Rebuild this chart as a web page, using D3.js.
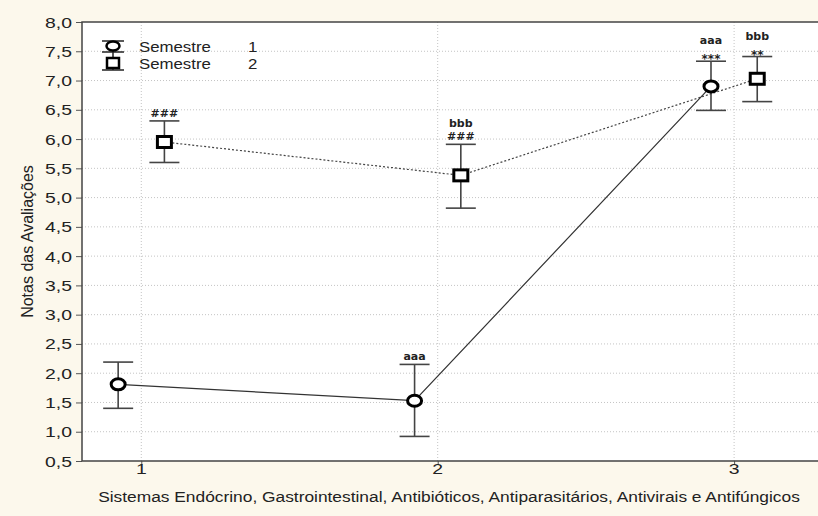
<!DOCTYPE html>
<html lang="pt">
<head>
<meta charset="UTF-8">
<title>Notas das Avaliações</title>
<script src="https://d3js.org/d3.v7.min.js"></script>
<style>
  body { margin: 0; background: #fcf8ec; font-family: "Liberation Sans", Arial, sans-serif; }
  svg { display: block; }
</style>
</head>
<body>
<script>
// data
var categories = [1, 2, 3];
var yTicks = [0.5, 1, 1.5, 2, 2.5, 3, 3.5, 4, 4.5, 5, 5.5, 6, 6.5, 7, 7.5, 8];
var sem1Mean = [1.81, 1.53, 6.90];
var sem1Low  = [1.40, 0.92, 6.49];
var sem1High = [2.19, 2.15, 7.33];
var sem2Mean = [5.95, 5.38, 7.03];
var sem2Low  = [5.60, 4.82, 6.64];
var sem2High = [6.31, 5.91, 7.41];
var sem1Marks = [[], ["aaa"], ["aaa", "***"]];
var sem2Marks = [["###"], ["bbb", "###"], ["bbb", "**"]];
var legendNames = ["Semestre", "Semestre"];
var legendNums = ["1", "2"];

var width = 818, height = 516;
var margin = { top: 22, right: 0, bottom: 55, left: 82 };
var sx = 1.2; // the reference picture is stretched horizontally

var svg = d3.select("body").append("svg")
    .attr("width", width).attr("height", height);

svg.append("rect").attr("width", width).attr("height", height).attr("fill", "#fcf8ec");

var x = d3.scaleLinear().domain([0.8, 3.283]).range([margin.left, width - margin.right]);
var y = d3.scaleLinear().domain([0.5, 8]).range([height - margin.bottom, margin.top]);
var off = 0.078; // horizontal dodge between the two series

// stretched text helper
function label(px, py, str, size, anchor, stretch) {
  return svg.append("text")
      .attr("transform", "translate(" + px + "," + py + ") scale(" + stretch + ",1)")
      .attr("text-anchor", anchor).attr("font-size", size).attr("fill", "#222")
      .text(str);
}

// plot area
svg.append("rect")
    .attr("x", x(0.8)).attr("y", y(8))
    .attr("width", x(3.283) - x(0.8)).attr("height", y(0.5) - y(8))
    .attr("fill", "#fff");

// grid
var grid = svg.append("g").attr("stroke", "#c4c4c4").attr("stroke-width", 1).attr("stroke-dasharray", "1,2");
grid.selectAll("line.h").data(yTicks.slice(1, -1)).enter().append("line")
    .attr("x1", x(0.8)).attr("x2", x(3.283))
    .attr("y1", function (d) { return y(d); }).attr("y2", function (d) { return y(d); });
grid.selectAll("line.v").data(categories).enter().append("line")
    .attr("y1", y(0.5)).attr("y2", y(8))
    .attr("x1", function (d) { return x(d); }).attr("x2", function (d) { return x(d); });

// axes (ticks from d3, labels drawn stretched)
var yAxis = d3.axisLeft(y).tickValues(yTicks).tickSize(6).tickFormat("");
var gy = svg.append("g").attr("transform", "translate(" + x(0.8) + ",0)").call(yAxis);
gy.select(".domain").remove();
gy.selectAll("line").attr("stroke", "#555");
yTicks.forEach(function (t) {
  label(x(0.8) - 10, y(t) + 5.5, d3.format(".1f")(t).replace(".", ","), 15.5, "end", 1.25);
});

var xAxis = d3.axisBottom(x).tickValues(categories).tickSize(4).tickFormat("");
var gx = svg.append("g").attr("transform", "translate(0," + y(0.5) + ")").call(xAxis);
gx.select(".domain").remove();
gx.selectAll("line").attr("stroke", "#555");
categories.forEach(function (c) {
  label(x(c), y(0.5) + 13, String(c), 15.5, "middle", 1.25);
});

// frame (left, bottom, top)
svg.append("path")
    .attr("d", "M" + x(3.283) + "," + y(8) + "H" + x(0.8) + "V" + y(0.5) + "H" + x(3.283))
    .attr("fill", "none").attr("stroke", "#444").attr("stroke-width", 1.5);

// axis titles
svg.append("text")
    .attr("transform", "translate(33," + ((y(0.5) + y(8)) / 2) + ") rotate(-90)")
    .attr("text-anchor", "middle").attr("font-size", 16).attr("fill", "#222")
    .text("Notas das Avaliações");
label(449, 502, "Sistemas Endócrino, Gastrointestinal, Antibióticos, Antiparasitários, Antivirais e Antifúngicos",
      15.5, "middle", 1.12);

// lines
var line1 = d3.line().x(function (d, i) { return x(categories[i] - off); }).y(function (d) { return y(d); });
var line2 = d3.line().x(function (d, i) { return x(categories[i] + off); }).y(function (d) { return y(d); });
svg.append("path").attr("d", line1(sem1Mean)).attr("fill", "none")
    .attr("stroke", "#333").attr("stroke-width", 1.2);
svg.append("path").attr("d", line2(sem2Mean)).attr("fill", "none")
    .attr("stroke", "#444").attr("stroke-width", 1.2).attr("stroke-dasharray", "2,2");

// error bars
function errorBars(mean, low, high, dx) {
  var g = svg.append("g").attr("stroke", "#444").attr("stroke-width", 1.6);
  mean.forEach(function (m, i) {
    var cx = x(categories[i] + dx);
    g.append("line").attr("x1", cx).attr("x2", cx).attr("y1", y(low[i])).attr("y2", y(high[i]));
    g.append("line").attr("x1", cx - 15).attr("x2", cx + 15).attr("y1", y(low[i])).attr("y2", y(low[i]));
    g.append("line").attr("x1", cx - 15).attr("x2", cx + 15).attr("y1", y(high[i])).attr("y2", y(high[i]));
  });
}
errorBars(sem1Mean, sem1Low, sem1High, -off);
errorBars(sem2Mean, sem2Low, sem2High, off);

// markers
svg.selectAll("ellipse.s1").data(sem1Mean).enter().append("ellipse")
    .attr("cx", function (d, i) { return x(categories[i] - off); })
    .attr("cy", function (d) { return y(d); })
    .attr("rx", 7).attr("ry", 5.5)
    .attr("fill", "#fff").attr("stroke", "#000").attr("stroke-width", 3);
svg.selectAll("rect.s2").data(sem2Mean).enter().append("rect")
    .attr("x", function (d, i) { return x(categories[i] + off) - 7; })
    .attr("y", function (d) { return y(d) - 5.5; })
    .attr("width", 14).attr("height", 11)
    .attr("fill", "#fff").attr("stroke", "#000").attr("stroke-width", 3);

// significance marks above upper caps
function marks(labels, high, dx) {
  labels.forEach(function (arr, i) {
    var n = arr.length;
    arr.forEach(function (t, j) {
      var isStar = t.indexOf("*") >= 0;
      svg.append("text")
          .attr("x", x(categories[i] + dx))
          .attr("y", y(high[i]) - 4 - (n - 1 - j) * 13 + (isStar ? 6 : 0))
          .attr("text-anchor", "middle")
          .attr("font-size", isStar ? 12 : 11).attr("font-weight", "bold")
          .attr("font-family", "DejaVu Sans, sans-serif")
          .attr("fill", "#222")
          .text(t);
    });
  });
}
marks(sem1Marks, sem1High, -off);
marks(sem2Marks, sem2High, off);

// legend
var lx = 113, ly = 46;
var lg = svg.append("g").attr("transform", "translate(" + lx + "," + ly + ")");
lg.append("g").attr("stroke", "#222").attr("stroke-width", 1.5).selectAll("line")
    .data([-5, 6, 24]).enter().append("line")
    .attr("x1", -11).attr("x2", 11).attr("y1", function (d) { return d; }).attr("y2", function (d) { return d; });
lg.append("line").attr("x1", 0).attr("x2", 0).attr("y1", -5).attr("y2", 24).attr("stroke", "#222").attr("stroke-width", 1.5);
lg.append("ellipse").attr("cx", 0).attr("cy", 0).attr("rx", 6.5).attr("ry", 4.5)
    .attr("fill", "#fff").attr("stroke", "#000").attr("stroke-width", 2.5);
lg.append("rect").attr("x", -6).attr("y", 12).attr("width", 12).attr("height", 10)
    .attr("fill", "#fff").attr("stroke", "#000").attr("stroke-width", 2.5);
legendNames.forEach(function (n, i) {
  label(lx + 26, ly + 5.5 + i * 17, n, 15, "start", 1.12);
  label(lx + 135, ly + 5.5 + i * 17, legendNums[i], 15, "start", 1.12);
});
</script>
</body>
</html>
